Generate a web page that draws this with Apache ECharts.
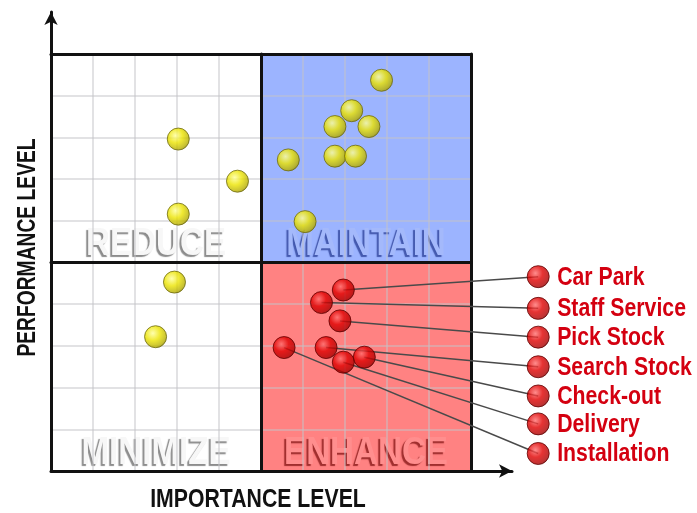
<!DOCTYPE html>
<html>
<head>
<meta charset="utf-8">
<script src="https://cdn.jsdelivr.net/npm/echarts@6/dist/echarts.min.js"></script>
<style>html,body{margin:0;padding:0;background:#fff}#c{width:697px;height:513px}</style>
</head>
<body>
<div id="c"></div>
<script>
// ---- data ----
var redNames = ['Car Park', 'Staff Service', 'Pick Stock', 'Search Stock', 'Check-out', 'Delivery', 'Installation'];
var redImportance = [6.96, 6.44, 6.88, 6.55, 7.46, 6.96, 5.55];
var redPerformance = [4.34, 4.04, 3.60, 2.96, 2.73, 2.61, 2.96];
var calloutImportance = 11.6;
var calloutPerformance = [4.66, 3.90, 3.21, 2.50, 1.80, 1.13, 0.42];
var yellowImportance = [7.87, 7.16, 6.76, 7.57, 6.76, 7.25, 5.65, 6.05, 3.03, 4.44, 3.03, 2.94, 2.49];
var yellowPerformance = [9.37, 8.64, 8.26, 8.26, 7.55, 7.55, 7.46, 5.98, 7.96, 6.95, 6.16, 4.53, 3.22];
var quadrantNames = ['REDUCE', 'MAINTAIN', 'MINIMIZE', 'ENHANCE'];
var quadrantX = [2.5, 7.5, 2.5, 7.5];
var quadrantY = [5.44, 5.44, 0.43, 0.43];
var gridTicks = [1, 2, 3, 4, 6, 7, 8, 9];
var dividerTicks = [5, 10];
var axisMin = 0, axisMax = 10, mid = 5;
var xTitle = 'IMPORTANCE LEVEL';
var yTitle = 'PERFORMANCE LEVEL';

var FONT = "'Liberation Sans', Arial, sans-serif";

var yellowBall = {
  type: 'radial', x: 0.38, y: 0.35, r: 0.7,
  colorStops: [{offset: 0, color: '#ffff9a'}, {offset: 0.45, color: '#ece400'}, {offset: 0.85, color: '#b8b000'}, {offset: 1, color: '#807a00'}]
};
var redBall = {
  type: 'radial', x: 0.38, y: 0.35, r: 0.7,
  colorStops: [{offset: 0, color: '#ff7070'}, {offset: 0.45, color: '#e00000'}, {offset: 0.85, color: '#b00000'}, {offset: 1, color: '#700000'}]
};

var quadStyles = [
  {color: '#f7f7f7', shadow: 'rgba(0,0,0,0.45)'},
  {color: '#a4b9fb', shadow: 'rgba(30,50,140,0.7)'},
  {color: '#f7f7f7', shadow: 'rgba(0,0,0,0.45)'},
  {color: '#ff8e8e', shadow: 'rgba(120,10,10,0.7)'}
];

var series = [];
// quadrant backgrounds
series.push({
  type: 'scatter', xAxisIndex: 0, yAxisIndex: 0, data: [], z: 1, silent: true,
  markArea: {
    silent: true,
    data: [
      [{xAxis: mid, yAxis: mid, itemStyle: {color: '#9cb4ff'}}, {xAxis: axisMax, yAxis: axisMax}],
      [{xAxis: mid, yAxis: axisMin, itemStyle: {color: '#ff8282'}}, {xAxis: axisMax, yAxis: mid}]
    ]
  }
});
// light grid lines
series.push({
  type: 'scatter', xAxisIndex: 0, yAxisIndex: 0, data: [], z: 3, silent: true,
  markLine: {
    silent: true, symbol: 'none', label: {show: false}, animation: false,
    lineStyle: {color: 'rgba(195,195,200,0.65)', width: 1.5, type: 'solid'},
    data: gridTicks.map(function (t) { return {xAxis: t}; }).concat(gridTicks.map(function (t) { return {yAxis: t}; }))
  }
});
// black dividers and border
series.push({
  type: 'scatter', xAxisIndex: 0, yAxisIndex: 0, data: [], z: 4, silent: true,
  markLine: {
    silent: true, symbol: 'none', label: {show: false}, animation: false,
    lineStyle: {color: '#111', width: 3, type: 'solid', cap: 'round'},
    data: dividerTicks.map(function (t) { return {xAxis: t}; }).concat(dividerTicks.map(function (t) { return {yAxis: t}; }))
  }
});
// connectors (custom series, not clipped)
series.push({
  type: 'custom', xAxisIndex: 0, yAxisIndex: 0, z: 5, silent: true, clip: false,
  data: redNames.map(function (n, i) { return [redImportance[i], redPerformance[i], calloutImportance, calloutPerformance[i]]; }),
  renderItem: function (params, api) {
    var a = api.coord([api.value(0), api.value(1)]);
    var b = api.coord([api.value(2), api.value(3)]);
    return {type: 'line', shape: {x1: a[0], y1: a[1], x2: b[0], y2: b[1]},
      style: {stroke: '#4a4a4a', lineWidth: 1.5}};
  }
});
// yellow points
series.push({
  type: 'scatter', xAxisIndex: 0, yAxisIndex: 0, z: 6, symbolSize: 22,
  itemStyle: {color: yellowBall, borderColor: '#6e6a10', borderWidth: 1},
  data: yellowImportance.map(function (v, i) { return [v, yellowPerformance[i]]; })
});
// red points
series.push({
  type: 'scatter', xAxisIndex: 0, yAxisIndex: 0, z: 6, symbolSize: 22,
  itemStyle: {color: redBall, borderColor: '#600000', borderWidth: 1},
  data: redImportance.map(function (v, i) { return {value: [v, redPerformance[i]], name: redNames[i]}; })
});
// callout markers
series.push({
  type: 'scatter', xAxisIndex: 0, yAxisIndex: 0, z: 6, symbolSize: 22, clip: false,
  itemStyle: {color: redBall, borderColor: '#600000', borderWidth: 1},
  data: redNames.map(function (n, i) { return {value: [calloutImportance, calloutPerformance[i]], name: n}; })
});

var hidden = {axisLine: {show: false}, axisTick: {show: false}, axisLabel: {show: false}, splitLine: {show: false}};
function ax(extra) { var o = JSON.parse(JSON.stringify(hidden)); for (var k in extra) o[k] = extra[k]; return o; }

var option = {
  animation: false,
  backgroundColor: '#fff',
  grid: [
    {left: 51, top: 54, width: 420, height: 417},
    {left: 51, top: 12, right: 185, bottom: 42}
  ],
  xAxis: [
    ax({type: 'value', gridIndex: 0, min: axisMin, max: axisMax, interval: 1}),
    ax({type: 'value', gridIndex: 1, min: 0, max: 1, z: 10,
      axisLine: {show: true, symbol: ['none', 'arrow'], symbolSize: [10, 13], lineStyle: {color: '#111', width: 3}}})
  ],
  yAxis: [
    ax({type: 'value', gridIndex: 0, min: axisMin, max: axisMax, interval: 1}),
    ax({type: 'value', gridIndex: 1, min: 0, max: 1, z: 10,
      axisLine: {show: true, symbol: ['none', 'arrow'], symbolSize: [10, 13], lineStyle: {color: '#111', width: 3}}})
  ],
  series: series
};
var chart = echarts.init(document.getElementById('c'), null, {renderer: 'canvas'});
chart.setOption(option);

// ---- text placed through the axes' scales (narrowed by horizontal scaling) ----
function px(x, y) { return chart.convertToPixel({gridIndex: 0}, [x, y]); }
var graphics = [];
quadrantNames.forEach(function (n, i) {
  var p = px(quadrantX[i], quadrantY[i]);
  graphics.push({
    type: 'text', x: p[0], y: p[1], scaleX: 0.85, z: 2, silent: true,
    style: {text: n, align: 'center', verticalAlign: 'middle', font: 'bold 39px ' + FONT,
      fill: quadStyles[i].color, textShadowColor: quadStyles[i].shadow,
      textShadowOffsetX: -2, textShadowOffsetY: 2, textShadowBlur: 1}
  });
});
redNames.forEach(function (n, i) {
  var p = px(calloutImportance, calloutPerformance[i]);
  graphics.push({
    type: 'text', x: p[0] + 19, y: p[1] + 1, scaleX: 0.85, z: 7, silent: true,
    style: {text: n, align: 'left', verticalAlign: 'middle', font: 'bold 25px ' + FONT, fill: '#d40010'}
  });
});
var bl = px(axisMin, axisMin), tr = px(axisMax, axisMax);
graphics.push({
  type: 'text', x: (bl[0] + tr[0]) / 2 - 3, y: bl[1] + 29, scaleX: 0.85, z: 7, silent: true,
  style: {text: xTitle, align: 'center', verticalAlign: 'middle', font: 'bold 25px ' + FONT, fill: '#111'}
});
graphics.push({
  type: 'text', x: bl[0] - 23, y: (bl[1] + tr[1]) / 2 - 15, scaleX: 0.77, rotation: Math.PI / 2, z: 7, silent: true,
  style: {text: yTitle, align: 'center', verticalAlign: 'middle', font: 'bold 25px ' + FONT, fill: '#111'}
});
chart.setOption({graphic: {elements: graphics}});
</script>
</body>
</html>
